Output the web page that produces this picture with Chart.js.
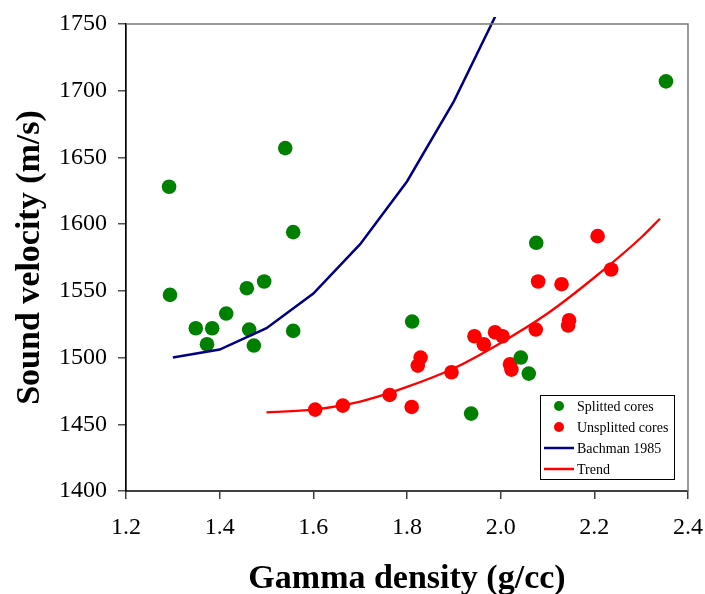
<!DOCTYPE html>
<html><head><meta charset="utf-8">
<script src="https://cdn.jsdelivr.net/npm/chart.js@4"></script>
<style>html,body{margin:0;padding:0;background:#fff}#wrap{width:705px;height:594px}</style>
</head><body><div id="wrap"><canvas id="c" width="705" height="594"></canvas></div>
<script>
// ---- data ----
const seriesNames = ['Splitted cores', 'Unsplitted cores', 'Bachman 1985', 'Trend'];

const splitX = [1.292, 1.294, 1.349, 1.373, 1.384, 1.414, 1.458, 1.463, 1.473, 1.495, 1.540, 1.557, 1.557, 1.811, 1.937, 2.043, 2.060, 2.076, 2.353];
const splitY = [1628, 1547, 1522, 1510, 1522, 1533, 1552, 1521, 1509, 1557, 1657, 1594, 1520, 1527, 1458, 1500, 1488, 1586, 1707];

const unsplitX = [1.604, 1.663, 1.763, 1.810, 1.823, 1.829, 1.895, 1.944, 1.964, 1.988, 2.004, 2.020, 2.023, 2.075, 2.080, 2.130, 2.144, 2.146, 2.207, 2.236];
const unsplitY = [1461, 1464, 1472, 1463, 1494, 1500, 1489, 1516, 1510, 1519, 1516, 1495, 1491, 1521, 1557, 1555, 1524, 1528, 1591, 1566];

const bachmanX = [1.3, 1.4, 1.5, 1.6, 1.7, 1.8, 1.9, 2.0];
const bachmanY = [1500, 1506, 1522, 1548, 1585, 1632, 1692, 1764];

const trendX = [1.5, 1.6, 1.7, 1.8, 1.9, 2.0, 2.1, 2.2, 2.3, 2.34];
const trendY = [1459, 1461, 1467, 1478, 1492, 1511, 1533, 1560, 1590, 1604];

const xTickValues = [1.2, 1.4, 1.6, 1.8, 2.0, 2.2, 2.4];
const xTickLabels = ['1.2', '1.4', '1.6', '1.8', '2.0', '2.2', '2.4'];
const yTickValues = [1400, 1450, 1500, 1550, 1600, 1650, 1700, 1750];
const yTickLabels = ['1400', '1450', '1500', '1550', '1600', '1650', '1700', '1750'];

const xTitle = 'Gamma density (g/cc)';
const yTitle = 'Sound velocity (m/s)';

// ---- chart ----
const FONT = "'Liberation Serif','Times New Roman',serif";
const pts = (xs, ys) => xs.map((x, i) => ({x: x, y: ys[i]}));

const framePlugin = {
  id: 'frame',
  afterDatasetsDraw(chart) {
    const ctx = chart.ctx, a = chart.chartArea;
    ctx.save();
    ctx.strokeStyle = '#7a7a7a';
    ctx.lineWidth = 1.5;
    ctx.beginPath();
    ctx.moveTo(a.left, a.top);
    ctx.lineTo(a.right, a.top);
    ctx.lineTo(a.right, a.bottom);
    ctx.stroke();
    ctx.restore();
  }
};

const legendPlugin = {
  id: 'boxLegend',
  afterDraw(chart) {
    const ctx = chart.ctx, a = chart.chartArea;
    const bx = a.right - 148, by = a.bottom - 96, bw = 134, bh = 84;
    ctx.save();
    ctx.fillStyle = '#fff';
    ctx.fillRect(bx, by, bw, bh);
    ctx.strokeStyle = '#000';
    ctx.lineWidth = 1;
    ctx.strokeRect(bx + 0.5, by + 0.5, bw, bh);
    ctx.font = '14px ' + FONT;
    ctx.textBaseline = 'middle';
    ctx.textAlign = 'left';
    chart.data.datasets.forEach((ds, i) => {
      const y = by + 11 + i * 21;
      if (ds.showLine) {
        ctx.strokeStyle = ds.borderColor;
        ctx.lineWidth = 2.5;
        ctx.beginPath();
        ctx.moveTo(bx + 4, y);
        ctx.lineTo(bx + 34, y);
        ctx.stroke();
      } else {
        ctx.fillStyle = ds.backgroundColor;
        ctx.beginPath();
        ctx.arc(bx + 19, y, 5, 0, Math.PI * 2);
        ctx.fill();
      }
      ctx.fillStyle = '#000';
      ctx.fillText(ds.label, bx + 37, y + 1);
    });
    ctx.restore();
  }
};

new Chart(document.getElementById('c'), {
  type: 'scatter',
  data: {
    datasets: [
      {label: seriesNames[0], data: pts(splitX, splitY), backgroundColor: '#008000', borderWidth: 0,
       pointRadius: 7.3, pointHoverRadius: 7.3, order: 2, clip: false},
      {label: seriesNames[1], data: pts(unsplitX, unsplitY), backgroundColor: '#ff0000', borderWidth: 0,
       pointRadius: 7.3, pointHoverRadius: 7.3, order: 2, clip: false},
      {label: seriesNames[2], data: pts(bachmanX, bachmanY), showLine: true, borderColor: '#000080',
       backgroundColor: '#000080', borderWidth: 2.5, pointRadius: 0, tension: 0, order: 1,
       clip: {left: 0, top: 7, right: 0, bottom: 0}},
      {label: seriesNames[3], data: pts(trendX, trendY), showLine: true, borderColor: '#ff0000',
       backgroundColor: '#ff0000', borderWidth: 2.3, pointRadius: 0, cubicInterpolationMode: 'monotone', order: 1}
    ]
  },
  options: {
    responsive: false,
    animation: false,
    devicePixelRatio: 1,
    layout: {padding: {top: 24, right: 17, left: 0, bottom: 0}},
    plugins: {legend: {display: false}, tooltip: {enabled: false}},
    scales: {
      x: {
        type: 'linear', min: 1.2, max: 2.4,
        afterBuildTicks: s => { s.ticks = xTickValues.map(v => ({value: v})); },
        afterFit: s => { s.height = 103; s.paddingRight = 0; s.paddingLeft = 0; },
        ticks: {callback: (v, i) => xTickLabels[i], font: {family: FONT, size: 24}, color: '#000', padding: 14, maxRotation: 0, autoSkip: false},
        grid: {drawOnChartArea: false, drawTicks: true, tickLength: 8, color: '#404040', lineWidth: 1.5},
        border: {display: true, color: '#404040', width: 2},
        title: {display: true, text: xTitle, color: '#000', font: {family: FONT, size: 34, weight: 'bold', lineHeight: 0.88}, padding: {top: 0, bottom: 0}}
      },
      y: {
        type: 'linear', min: 1400, max: 1750,
        afterBuildTicks: s => { s.ticks = yTickValues.map(v => ({value: v})); },
        afterFit: s => { s.width = 126; s.paddingTop = 0; s.paddingBottom = 0; },
        ticks: {callback: (v, i) => yTickLabels[i], font: {family: FONT, size: 24}, color: '#000', padding: 11, autoSkip: false},
        grid: {drawOnChartArea: false, drawTicks: true, tickLength: 8, color: '#505050', lineWidth: 1.5},
        border: {display: true, color: '#000', width: 1.7},
        title: {display: true, text: yTitle, color: '#000', font: {family: FONT, size: 34, weight: 'bold', lineHeight: 1}, padding: {top: 13, bottom: 0}}
      }
    }
  },
  plugins: [framePlugin, legendPlugin]
});
</script>
</body></html>
